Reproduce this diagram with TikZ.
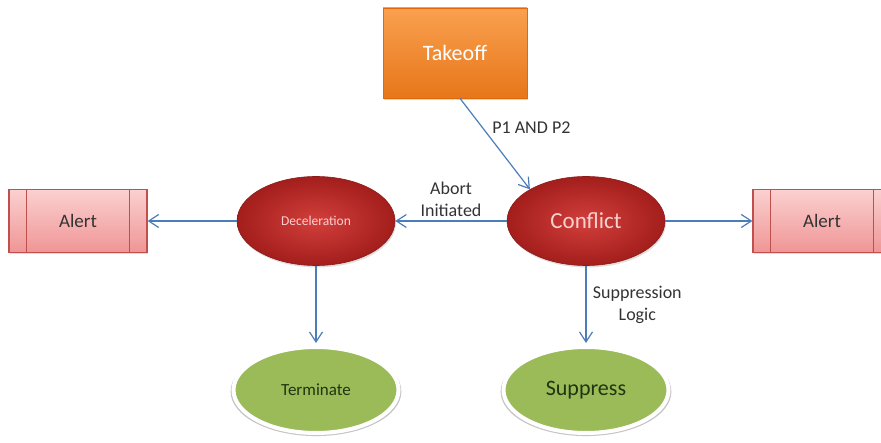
\documentclass[tikz,border=0pt]{standalone}
\usepackage{fontspec}
\setmainfont{Carlito}
\usetikzlibrary{shapes.geometric,arrows.meta,shadows}
\definecolor{arrowblue}{HTML}{4A7EBB}
\definecolor{labelgray}{HTML}{333333}
\definecolor{redA}{HTML}{D23F3B}
\definecolor{redB}{HTML}{A31E1C}
\definecolor{redline}{HTML}{8C1A18}
\definecolor{orangeA}{HTML}{F9A04F}
\definecolor{orangeB}{HTML}{E7771A}
\definecolor{orangeline}{HTML}{E06A0A}
\definecolor{pinkA}{HTML}{FBD0D0}
\definecolor{pinkB}{HTML}{F09595}
\definecolor{pinkline}{HTML}{C0504D}
\definecolor{greenfill}{HTML}{9BBB59}
\definecolor{greentext}{HTML}{1E3510}
\tikzset{
  arr/.style={draw=arrowblue, line width=1.2pt, -{Straight Barb[length=10pt,width=13pt]}},
  redell/.style={ellipse, inner sep=0pt, minimum width=158pt, minimum height=89pt,
    shading=radial, inner color=redA, outer color=redB, draw=redline, line width=0.6pt,
    drop shadow={shadow xshift=1pt, shadow yshift=-2pt, opacity=0.25},
    text=pinkA},
  greenell/.style={ellipse, inner sep=0pt, minimum width=165pt, minimum height=86pt,
    fill=greenfill, draw=white, line width=4pt, text=greentext,
    general shadow={fill=black!45, shadow scale=1.035, shadow yshift=-1.5pt, opacity=0.5}},
  alertbox/.style={rectangle, inner sep=0pt, minimum width=138pt, minimum height=63pt,
    top color=pinkA, bottom color=pinkB, draw=pinkline, line width=1.2pt,
    drop shadow={shadow xshift=1pt, shadow yshift=-1.5pt, opacity=0.25},
    text=labelgray, font=\fontsize{19}{22}\selectfont},
  takeoffbox/.style={rectangle, inner sep=0pt, minimum width=144pt, minimum height=90pt,
    top color=orangeA, bottom color=orangeB, draw=orangeline, line width=0.8pt,
    drop shadow={shadow xshift=1pt, shadow yshift=-2pt, opacity=0.3},
    text=white, font=\fontsize{22}{26}\selectfont},
  lbl/.style={text=labelgray, align=center, font=\fontsize{18}{22}\selectfont}
}
\begin{document}
\begin{tikzpicture}[x=1pt,y=-1pt]
\useasboundingbox (0,0) rectangle (881,443);
\clip (0,0) rectangle (881,443);
\fill[white] (0,0) rectangle (881,443);

\node[takeoffbox] (Takeoff) at (455,53) {Takeoff};
\node[redell, font=\fontsize{23}{27}\selectfont] (Conflict) at (586,221) {Conflict};
\node[redell, font=\fontsize{13.5}{16}\selectfont] (Decel) at (316,221) {Deceleration};
\node[alertbox] (AlertL) at (78,221) {Alert};
\node[alertbox] (AlertR) at (822,221) {Alert};
\draw[pinkline, line width=1.2pt] ([xshift=18pt]AlertL.north west) -- ([xshift=18pt]AlertL.south west);
\draw[pinkline, line width=1.2pt] ([xshift=-18pt]AlertL.north east) -- ([xshift=-18pt]AlertL.south east);
\draw[pinkline, line width=1.2pt] ([xshift=18pt]AlertR.north west) -- ([xshift=18pt]AlertR.south west);
\draw[pinkline, line width=1.2pt] ([xshift=-18pt]AlertR.north east) -- ([xshift=-18pt]AlertR.south east);
\node[greenell, font=\fontsize{17}{20}\selectfont] (Terminate) at (316,390) {Terminate};
\node[greenell, font=\fontsize{22}{26}\selectfont] (Suppress) at (586,390) {Suppress};

\draw[arr] ([xshift=5pt]Takeoff.south) -- (Conflict.north west)
  node[lbl, pos=0.32, right=6pt] {P1 AND P2};
\draw[arr] (Conflict.west) -- (Decel.east)
  node[lbl, midway, above=3pt, inner sep=1pt] {Abort\\Initiated};
\draw[arr] (Decel.west) -- (AlertL.east);
\draw[arr] (Conflict.east) -- (AlertR.west);
\draw[arr] (Decel.south) -- ([yshift=2pt]Terminate.north);
\draw[arr] (Conflict.south) -- ([yshift=2pt]Suppress.north)
  node[lbl, pos=0.5, right=3pt] {Suppression\\Logic};
\end{tikzpicture}
\end{document}
